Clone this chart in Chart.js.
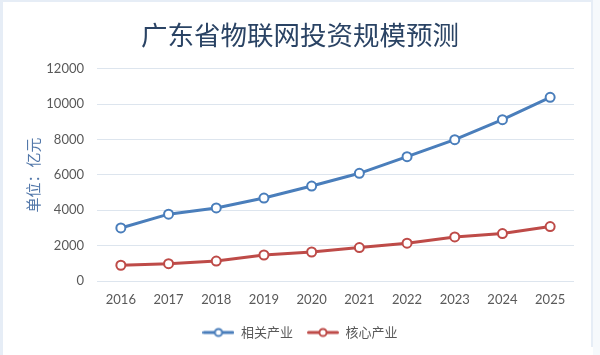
<!DOCTYPE html>
<html>
<head>
<meta charset="utf-8">
<script src="https://cdn.jsdelivr.net/npm/chart.js@4.4.1/dist/chart.umd.min.js"></script>
<style>
html,body{margin:0;padding:0;background:#fff;}
#wrap{position:relative;width:600px;height:355px;}
</style>
</head>
<body>
<div id="wrap"><canvas id="c" width="600" height="355"></canvas></div>
<script>
const years = ['2016','2017','2018','2019','2020','2021','2022','2023','2024','2025'];
const relatedIndustry = [3000, 3780, 4130, 4690, 5370, 6090, 7030, 7990, 9120, 10390];
const coreIndustry = [890, 980, 1130, 1470, 1640, 1890, 2140, 2490, 2680, 3080];
const seriesNames = ['相关产业', '核心产业'];
const yMin = 0, yMax = 12000, yStep = 2000;
const titleText = '广东省物联网投资规模预测';
const yTitle = '单位：亿元';

const BLUE = '#4a7ebb', RED = '#be4b48';

function legendMarker(color){
  const cv = document.createElement('canvas');
  cv.width = 32; cv.height = 12;
  const g = cv.getContext('2d');
  g.strokeStyle = color; g.lineWidth = 3; g.lineCap = 'round';
  g.beginPath(); g.moveTo(1.5, 6); g.lineTo(30.5, 6); g.stroke();
  g.beginPath(); g.arc(16, 6, 3.6, 0, Math.PI*2);
  g.fillStyle = '#fff'; g.fill();
  g.lineWidth = 2; g.stroke();
  return cv;
}
const markers = [legendMarker(BLUE), legendMarker(RED)];

const framePlugin = {
  id: 'frame',
  beforeDraw(chart){
    const ctx = chart.ctx;
    ctx.save();
    ctx.fillStyle = '#ffffff';
    ctx.fillRect(0,0,chart.width,chart.height);
    ctx.fillStyle = '#e6edf6';
    ctx.fillRect(0,0,3,chart.height);
    ctx.fillRect(0,0,593,2);
    ctx.fillRect(591,0,2,chart.height-8);
    ctx.fillStyle = '#f6f9fc';
    ctx.fillRect(593,0,7,chart.height);
    ctx.restore();
  }
};

new Chart(document.getElementById('c'), {
  type: 'line',
  data: {
    labels: years,
    datasets: [
      { label: seriesNames[0], data: relatedIndustry, borderColor: BLUE, backgroundColor: '#fff',
        borderWidth: 3, pointRadius: 4.5, pointHoverRadius: 4.5, pointBorderWidth: 2,
        pointBackgroundColor: '#fff', pointBorderColor: BLUE, tension: 0 },
      { label: seriesNames[1], data: coreIndustry, borderColor: RED, backgroundColor: '#fff',
        borderWidth: 3, pointRadius: 4.5, pointHoverRadius: 4.5, pointBorderWidth: 2,
        pointBackgroundColor: '#fff', pointBorderColor: RED, tension: 0 }
    ]
  },
  options: {
    responsive: false,
    animation: false,
    devicePixelRatio: 1,
    layout: { padding: { left: 0, right: 0, top: 0, bottom: 6 } },
    plugins: {
      title: {
        display: true, text: titleText, color: '#2a4364',
        font: { family: '"Noto Sans CJK SC", sans-serif', size: 26.5, weight: 'normal', lineHeight: 1.2 },
        padding: { top: 19, bottom: 18 }
      },
      legend: {
        position: 'bottom',
        labels: {
          usePointStyle: true, pointStyleWidth: 32, boxHeight: 13,
          color: '#595959', padding: 14,
          font: { family: '"Noto Sans CJK SC", sans-serif', size: 13 },
          generateLabels(chart){
            const items = Chart.defaults.plugins.legend.labels.generateLabels(chart);
            items.forEach((it, i) => { it.pointStyle = markers[i]; });
            return items;
          }
        }
      },
      tooltip: { enabled: false }
    },
    scales: {
      x: {
        offset: true,
        grid: { display: false, drawTicks: false },
        border: { display: false },
        ticks: { color: '#595959', padding: 11, font: { family: 'Lato, sans-serif', size: 13 } },
        afterFit(s){ s.height = 31; }
      },
      y: {
        min: yMin, max: yMax,
        ticks: { stepSize: yStep, color: '#595959', padding: 13, font: { family: 'Lato, sans-serif', size: 13 },
          callback: (v) => String(v) },
        grid: { color: '#dde5ee', lineWidth: 1, drawTicks: false },
        border: { display: false },
        title: {
          display: true, text: yTitle, color: '#5378aa',
          font: { family: '"Noto Sans CJK SC", serif', size: 15, lineHeight: 1.2 },
          padding: { top: 24, bottom: 0 }
        },
        afterFit(s){ s.width = 97; }
      },
      yRightSpace: {
        position: 'right', display: true, min: yMin, max: yMax,
        grid: { display: false, drawTicks: false },
        border: { display: false },
        ticks: { display: false },
        afterFit(s){ s.width = 26; }
      }
    }
  },
  plugins: [framePlugin]
});
</script>
</body>
</html>
